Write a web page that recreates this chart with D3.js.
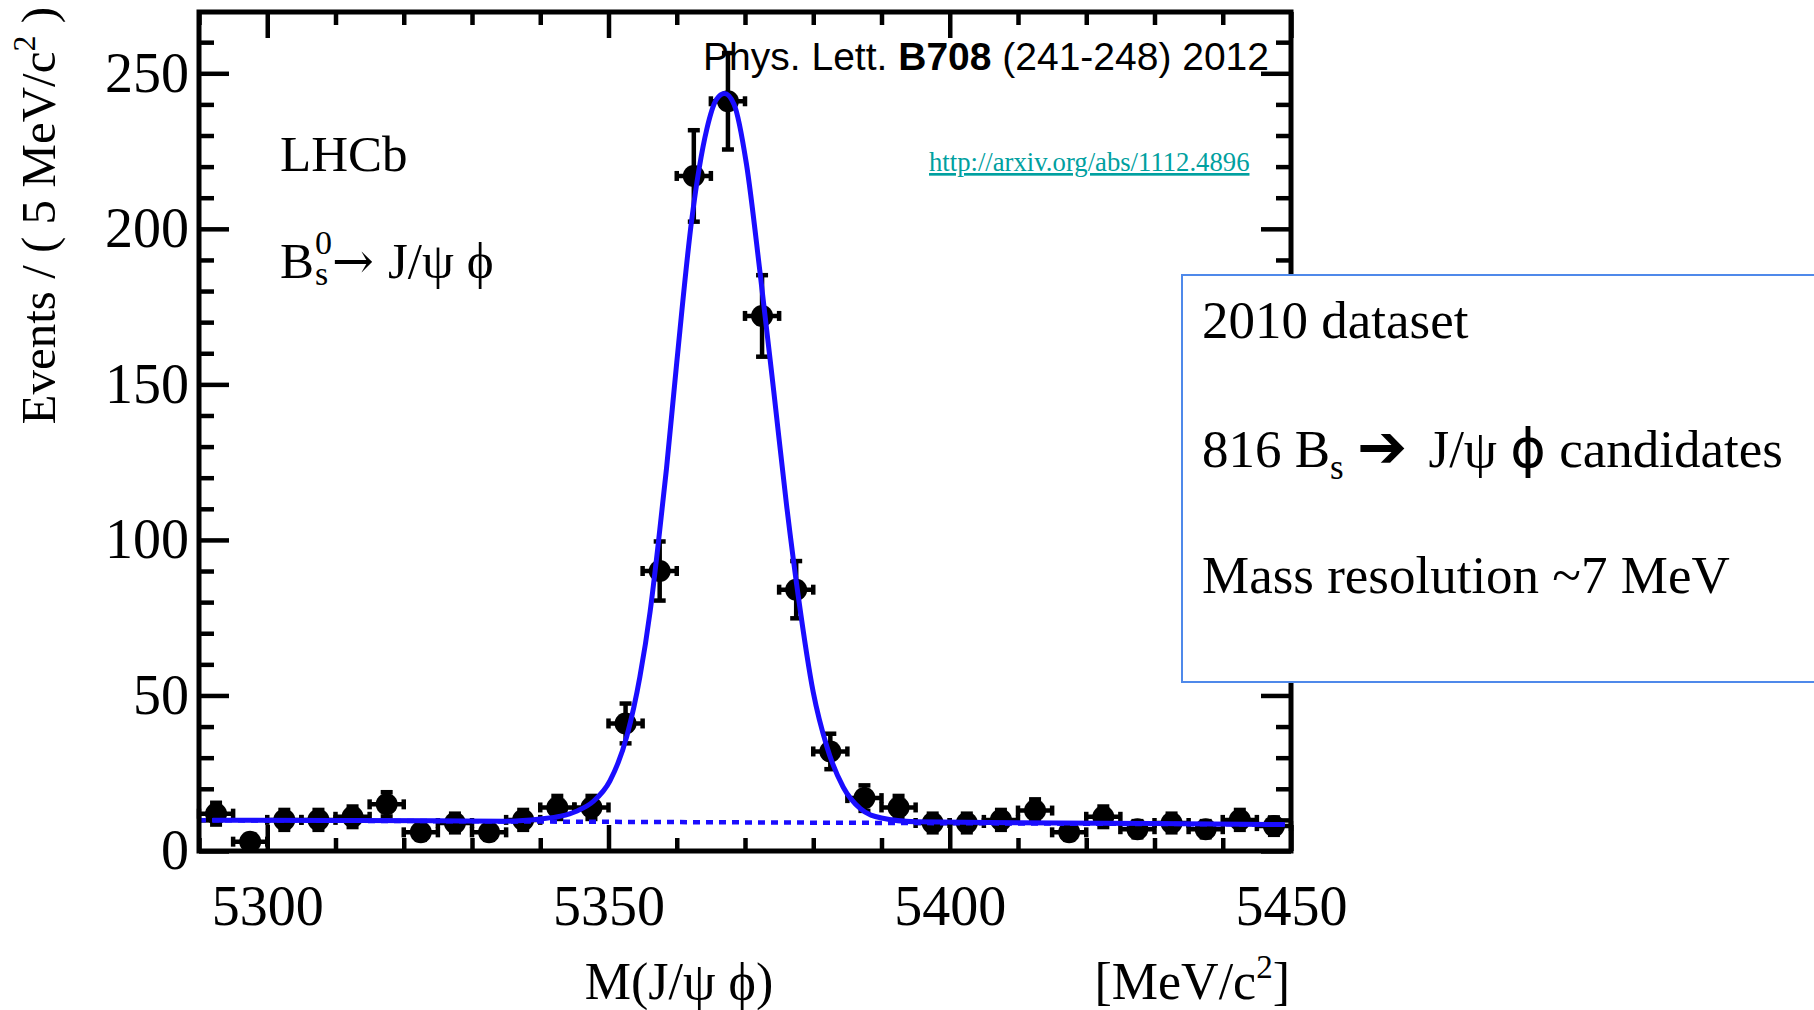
<!DOCTYPE html>
<html>
<head>
<meta charset="utf-8">
<script src="https://cdn.jsdelivr.net/npm/d3@7"></script>
<style>
  body { margin: 0; background: #fff; overflow: hidden; }
  svg { display: block; }
</style>
</head>
<body>
<svg id="chart" width="1814" height="1010"></svg>
<script>
// bin centres (MeV/c^2), 5 MeV bins
const massBins = [5292.5, 5297.5, 5302.5, 5307.5, 5312.5, 5317.5, 5322.5, 5327.5,
                  5332.5, 5337.5, 5342.5, 5347.5, 5352.5, 5357.5, 5362.5, 5367.5,
                  5372.5, 5377.5, 5382.5, 5387.5, 5392.5, 5397.5, 5402.5, 5407.5,
                  5412.5, 5417.5, 5422.5, 5427.5, 5432.5, 5437.5, 5442.5, 5447.5];
const counts = [12, 3, 10, 10, 11, 15, 6, 9, 6, 10, 14, 14, 41, 90, 217, 241,
                172, 84, 32, 17, 14, 9, 9, 10, 13, 6, 11, 7, 9, 7, 10, 8];
const countErrors = [3.5, 1.7, 3.2, 3.2, 3.3, 3.9, 2.4, 3.0, 2.4, 3.2, 3.7, 3.7, 6.4, 9.5, 14.7, 15.5,
                     13.1, 9.2, 5.7, 4.1, 3.7, 3.0, 3.0, 3.2, 3.6, 2.4, 3.3, 2.6, 3.0, 2.6, 3.2, 2.8];
const binHalfWidth = 2.5;

// fitted total pdf
const fitMass = [5292, 5310, 5325, 5335, 5340, 5343, 5345.3, 5347.8, 5350.2, 5352.7, 5354.6,
                 5356.1, 5357.3, 5358.5, 5360, 5362.2, 5364.4, 5365.8, 5367, 5368.4, 5370.2,
                 5372.2, 5374.2, 5376.1, 5377.8, 5380, 5382, 5384.4, 5386.9, 5390, 5395,
                 5410, 5430, 5449];
const fitValue = [9.9, 9.8, 9.7, 9.6, 10.3, 11.2, 12.8, 16, 22.5, 37, 56,
                  77, 99, 123, 157, 203, 232, 241.5, 243.5, 240, 221,
                  186, 148, 111, 82, 51, 33.5, 20.5, 13.6, 10.6, 9.4,
                  9.1, 8.8, 8.5];
// background component (dotted)
const bkgMass = [5290, 5450];
const bkgValue = [9.9, 8.5];

const xMajorTicks = [5300, 5350, 5400, 5450];
const yMajorTicks = [0, 50, 100, 150, 200, 250];

const serif = "Liberation Serif, Times New Roman, serif";
const sans = "Liberation Sans, Arial, sans-serif";

let svg = d3.select("#chart")
    .attr("font-family", serif);

let frame = {left: 199, right: 1291, top: 12, bottom: 851};

let x = d3.scaleLinear().domain([5290, 5450]).range([frame.left, frame.right]);
let y = d3.scaleLinear().domain([0, 269.7]).range([frame.bottom, frame.top]);

let xMinorTicks = d3.range(5290, 5451, 10).filter(d => xMajorTicks.indexOf(d) < 0);
let yMinorTicks = d3.range(10, 270, 10).filter(d => yMajorTicks.indexOf(d) < 0);

// inward ticks on all four sides
function drawTicks(axis, values, size, transform) {
    let g = svg.append("g")
        .attr("transform", transform)
        .call(axis.tickValues(values).tickSize(size).tickFormat(""));
    g.select(".domain").remove();
    g.selectAll("line").attr("stroke", "#000").attr("stroke-width", 4.5);
}

drawTicks(d3.axisBottom(x), xMajorTicks, -26, "translate(0," + frame.bottom + ")");
drawTicks(d3.axisBottom(x), xMinorTicks, -13, "translate(0," + frame.bottom + ")");
drawTicks(d3.axisTop(x), xMajorTicks, -26, "translate(0," + frame.top + ")");
drawTicks(d3.axisTop(x), xMinorTicks, -13, "translate(0," + frame.top + ")");
drawTicks(d3.axisLeft(y), yMajorTicks, -30, "translate(" + frame.left + ",0)");
drawTicks(d3.axisLeft(y), yMinorTicks, -15, "translate(" + frame.left + ",0)");
drawTicks(d3.axisRight(y), yMajorTicks, -30, "translate(" + frame.right + ",0)");
drawTicks(d3.axisRight(y), yMinorTicks, -15, "translate(" + frame.right + ",0)");

// tick labels
let xLabels = svg.append("g")
    .attr("transform", "translate(0," + frame.bottom + ")")
    .call(d3.axisBottom(x).tickValues(xMajorTicks).tickSize(0).tickFormat(d3.format("d")));
xLabels.select(".domain").remove();
xLabels.attr("font-family", serif).attr("font-size", 56);
xLabels.selectAll("text").attr("y", 74).attr("dy", null).attr("fill", "#000");

let yLabels = svg.append("g")
    .attr("transform", "translate(" + frame.left + ",0)")
    .call(d3.axisLeft(y).tickValues(yMajorTicks).tickSize(0).tickFormat(d3.format("d")));
yLabels.select(".domain").remove();
yLabels.attr("font-family", serif).attr("font-size", 56);
yLabels.selectAll("text").attr("x", -10).attr("fill", "#000");

// data points with error bars
let points = svg.append("g").attr("stroke", "#000").attr("stroke-width", 4.5);
massBins.forEach(function(m, i) {
    let cx = x(m), cy = y(counts[i]);
    let x0 = x(m - binHalfWidth), x1 = x(m + binHalfWidth);
    let yLo = y(Math.max(0, counts[i] - countErrors[i])), yHi = y(counts[i] + countErrors[i]);
    let p = points.append("g");
    p.append("line").attr("x1", x0).attr("x2", x1).attr("y1", cy).attr("y2", cy);
    p.append("line").attr("x1", x0).attr("x2", x0).attr("y1", cy - 5).attr("y2", cy + 5);
    p.append("line").attr("x1", x1).attr("x2", x1).attr("y1", cy - 5).attr("y2", cy + 5);
    p.append("line").attr("x1", cx).attr("x2", cx).attr("y1", yLo).attr("y2", yHi);
    p.append("line").attr("x1", cx - 6).attr("x2", cx + 6).attr("y1", yLo).attr("y2", yLo);
    p.append("line").attr("x1", cx - 6).attr("x2", cx + 6).attr("y1", yHi).attr("y2", yHi);
    p.append("circle").attr("cx", cx).attr("cy", cy).attr("r", 11)
        .attr("fill", "#000").attr("stroke", "none");
});

// background (dotted) and total fit (solid)
let bkgLine = d3.line()
    .x((d, i) => x(bkgMass[i]))
    .y((d, i) => y(bkgValue[i]));
svg.append("path")
    .attr("d", bkgLine(bkgMass))
    .attr("fill", "none")
    .attr("stroke", "#1a0dff")
    .attr("stroke-width", 4.5)
    .attr("stroke-dasharray", "7,6");

let fitLine = d3.line()
    .x((d, i) => x(fitMass[i]))
    .y((d, i) => y(fitValue[i]))
    .curve(d3.curveMonotoneX);
svg.append("path")
    .attr("d", fitLine(fitMass))
    .attr("fill", "none")
    .attr("stroke", "#1a0dff")
    .attr("stroke-width", 5)
    .attr("stroke-linejoin", "round");

// frame
svg.append("rect")
    .attr("x", frame.left).attr("y", frame.top)
    .attr("width", frame.right - frame.left).attr("height", frame.bottom - frame.top)
    .attr("fill", "none").attr("stroke", "#000").attr("stroke-width", 5);

// axis titles
let yTitle = svg.append("text")
    .attr("transform", "translate(55,7) rotate(-90)")
    .attr("text-anchor", "end")
    .attr("font-size", 49);
yTitle.append("tspan").text("Events / ( 5 MeV/c");
yTitle.append("tspan").attr("font-size", 32).attr("dy", -20).text("2");
yTitle.append("tspan").attr("dy", 20).text(" )");

svg.append("text")
    .attr("x", 679).attr("y", 999)
    .attr("text-anchor", "middle")
    .attr("font-size", 52)
    .text("M(J/ψ ϕ)");

let unitTitle = svg.append("text")
    .attr("x", 1290).attr("y", 999)
    .attr("text-anchor", "end")
    .attr("font-size", 52);
unitTitle.append("tspan").text("[MeV/c");
unitTitle.append("tspan").attr("font-size", 33).attr("dy", -21).text("2");
unitTitle.append("tspan").attr("dy", 21).text("]");

// labels inside the frame
svg.append("text").attr("x", 280).attr("y", 171).attr("font-size", 51).text("LHCb");

let decay = svg.append("text").attr("x", 280).attr("y", 278).attr("font-size", 51);
decay.append("tspan").text("B");
let bWidth = decay.node().getComputedTextLength();
svg.append("text").attr("x", 280 + bWidth + 1).attr("y", 254).attr("font-size", 34).text("0");
svg.append("text").attr("x", 280 + bWidth + 1).attr("y", 285).attr("font-size", 34).text("s");
svg.append("text").attr("x", 280 + bWidth + 18).attr("y", 278)
    .attr("font-family", "DejaVu Serif").attr("font-size", 50).text("→");
svg.append("text").attr("x", 388).attr("y", 278).attr("font-size", 51).text("J/ψ ϕ");

let ref = svg.append("text")
    .attr("x", 1269).attr("y", 70)
    .attr("text-anchor", "end")
    .attr("font-family", sans)
    .attr("font-size", 39);
ref.append("tspan").text("Phys. Lett. ");
ref.append("tspan").attr("font-weight", "bold").text("B708");
ref.append("tspan").text(" (241-248) 2012");

svg.append("text")
    .attr("x", 929).attr("y", 171)
    .attr("font-size", 26.7)
    .attr("fill", "#00a0a0")
    .attr("text-decoration", "underline")
    .text("http://arxiv.org/abs/1112.4896");

// summary box on the right
svg.append("rect")
    .attr("x", 1182).attr("y", 275)
    .attr("width", 700).attr("height", 407)
    .attr("fill", "#fff")
    .attr("stroke", "#4f89ea")
    .attr("stroke-width", 2);

svg.append("text").attr("x", 1202).attr("y", 338).attr("font-size", 53).text("2010 dataset");

let cand = svg.append("text").attr("x", 1202).attr("y", 467).attr("font-size", 53);
cand.append("tspan").text("816 B");
cand.append("tspan").attr("font-size", 35).attr("dy", 12).text("s");
cand.append("tspan").attr("dy", -12).text("  ");
cand.append("tspan").attr("font-family", "DejaVu Sans").attr("font-weight", "bold").attr("font-size", 60).text("➔");
cand.append("tspan").attr("dx", 8).text(" J/ψ ");
cand.append("tspan").attr("font-family", "DejaVu Sans").attr("font-size", 54).text("ϕ");
cand.append("tspan").text(" candidates");

svg.append("text").attr("x", 1202).attr("y", 593).attr("font-size", 53).text("Mass resolution ~7 MeV");
</script>
</body>
</html>
